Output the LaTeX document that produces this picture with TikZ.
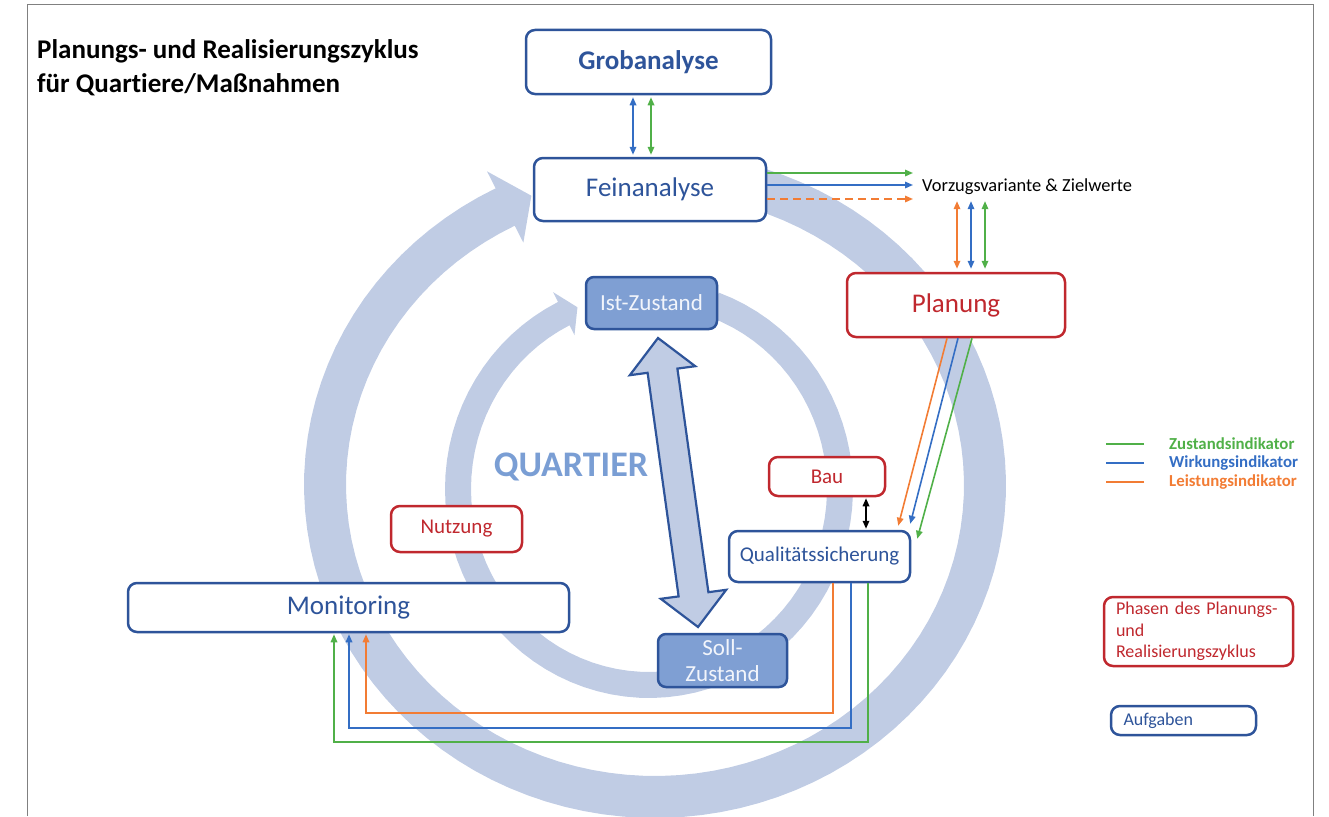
\documentclass[tikz,border=0pt]{standalone}
\usepackage{fontspec}
\setmainfont{Carlito}[Ligatures=NoCommon]
\usetikzlibrary{arrows.meta,calc}

\definecolor{ringblue}{RGB}{192,204,228}
\definecolor{boxblue}{RGB}{46,84,154}
\definecolor{phasered}{RGB}{192,40,46}
\definecolor{statefill}{RGB}{127,159,211}
\definecolor{zgreen}{RGB}{80,176,72}
\definecolor{wblue}{RGB}{52,110,196}
\definecolor{lorange}{RGB}{242,124,52}
\definecolor{quartier}{RGB}{122,158,212}

\tikzset{
  >={Triangle[length=8pt,width=6.5pt]},
  phase/.style={draw=phasered, line width=2.5pt, rounded corners=9pt, fill=white, text=phasered, inner sep=0pt},
  task/.style={draw=boxblue, line width=2.5pt, rounded corners=9pt, fill=white, text=boxblue, inner sep=0pt},
  state/.style={draw=boxblue, line width=2.5pt, rounded corners=8pt, fill=statefill, text=white!90!statefill, inner sep=0pt, align=center},
  zust/.style={draw=zgreen, line width=1.6pt},
  wirk/.style={draw=wblue, line width=1.6pt},
  leist/.style={draw=lorange, line width=1.6pt},
  bigtext/.style={font=\fontsize{27}{32}\selectfont},
  midtext/.style={font=\fontsize{23}{26}\selectfont},
  smalltext/.style={font=\fontsize{21}{25}\selectfont},
  legtext/.style={font=\bfseries\fontsize{16.8}{19}\selectfont, anchor=west, inner sep=0pt},
}

\begin{document}
\begin{tikzpicture}[x=1pt, y=-1pt]
  \useasboundingbox (0,0) rectangle (1329,816);

  % frame
  \draw[black!50, line width=1pt] (27,816) -- (27,5) -- (1313,5) -- (1313,816);

  % outer cycle
  \fill[ringblue] plot[domain=-75:243, samples=100, variable=\t] ({655+351*cos(\t)}, {485+333*sin(\t)})
    -- ({655+370*cos(243)}, {485+352*sin(243)})
    -- ({655+330*cos(248)}, {485+312*sin(248)})
    -- ({655+290*cos(243)}, {485+272*sin(243)})
    -- plot[domain=243:-75, samples=100, variable=\t] ({655+309*cos(\t)}, {485+291*sin(\t)}) -- cycle;

  % inner cycle
  \fill[ringblue] plot[domain=-70:243.5, samples=80, variable=\t] ({649+204*cos(\t)}, {489+209*sin(\t)})
    -- ({649+215*cos(243.5)}, {489+220*sin(243.5)})
    -- ({649+191*cos(248)}, {489+196*sin(248)})
    -- ({649+167*cos(243.5)}, {489+172*sin(243.5)})
    -- plot[domain=243.5:-70, samples=80, variable=\t] ({649+178*cos(\t)}, {489+183*sin(\t)}) -- cycle;

  % Ist <-> Soll
  \draw[boxblue, fill=ringblue, line width=2.2pt, line join=miter]
    (658,338) -- (695.2,366.2) -- (677.4,368.6) -- (708.4,592.2) -- (726.2,589.8)
    -- (698,627) -- (660.8,598.8) -- (678.6,596.4) -- (647.6,372.8) -- (629.8,375.2) -- cycle;

  % title
  \node[anchor=west, align=left, inner sep=0pt, font=\bfseries\fontsize{27}{34}\selectfont] (title) at (37,68)
    {Planungs- und Realisierungszyklus\\für Quartiere/Maßnahmen};

  \node[font=\bfseries\fontsize{36}{40}\selectfont, text=quartier] (quart) at (571,467) {QUARTIER};

  % boxes
  \node[task, font=\bfseries\fontsize{27}{32}\selectfont, minimum width=245, minimum height=64] (grob) at (648.5,62) {Grobanalyse};
  \node[task, bigtext, minimum width=232, minimum height=63] (fein) at (650,189.5) {Feinanalyse};
  \node[state, midtext, minimum width=131, minimum height=52] (ist) at (651.5,303) {Ist-Zustand};
  \node[state, midtext, minimum width=129, minimum height=53] (soll) at (722.5,660.5) {Soll-\\Zustand};
  \node[phase, bigtext, minimum width=218, minimum height=64] (plan) at (956,305) {Planung};
  \node[phase, smalltext, minimum width=116, minimum height=39] (bau) at (827,476.5) {Bau};
  \node[task, smalltext, minimum width=181, minimum height=51] (qs) at (819.5,556.5) {Qualitätssicherung};
  \node[phase, smalltext, minimum width=131, minimum height=46] (nutz) at (456.5,529) {Nutzung};
  \node[task, bigtext, minimum width=441, minimum height=49] (moni) at (348.5,607.5) {Monitoring};

  \node[anchor=west, inner xsep=9pt, inner ysep=6pt, font=\fontsize{18.4}{21}\selectfont] (vorz) at (913,187) {Vorzugsvariante \& Zielwerte};

  % Grobanalyse <-> Feinanalyse
  \draw[wirk, <->, shorten <=2pt, shorten >=2pt] ([xshift=-15.5]grob.south) -- ([xshift=-15.5]grob.south |- fein.north);
  \draw[zust, <->, shorten <=2pt, shorten >=2pt] ([xshift=2.5]grob.south) -- ([xshift=2.5]grob.south |- fein.north);

  % Feinanalyse -> Vorzugsvariante
  \draw[zust, ->] ([yshift=16.5]fein.east) -- ([yshift=16.5]fein.east -| vorz.west);
  \draw[wirk, ->] ([yshift=4.5]fein.east) -- ([yshift=4.5]fein.east -| vorz.west);
  \draw[leist, ->, dash pattern=on 8pt off 5pt] ([yshift=-9.5]fein.east) -- ([yshift=-9.5]fein.east -| vorz.west);

  % Vorzugsvariante <-> Planung
  \draw[leist, <->, shorten <=3pt] ([xshift=1]plan.north) -- ([xshift=1]plan.north |- vorz.south);
  \draw[wirk, <->, shorten <=3pt] ([xshift=15]plan.north) -- ([xshift=15]plan.north |- vorz.south);
  \draw[zust, <->, shorten <=3pt] ([xshift=29]plan.north) -- ([xshift=29]plan.north |- vorz.south);

  % Planung -> Qualitaetssicherung
  \draw[leist, ->] ([xshift=-9]plan.south) -- ([xshift=-13,yshift=4]qs.north east);
  \draw[wirk, ->] ([xshift=2]plan.south) -- ([xshift=-1,yshift=6]qs.north east);
  \draw[zust, ->] ([xshift=16]plan.south) -- ([xshift=6,yshift=-9]qs.north east);

  % Bau <-> Qualitaetssicherung
  \draw[line width=1.6pt, <->, shorten <=1pt, shorten >=1pt] ([xshift=39]bau.south) -- ([xshift=39]bau.south |- qs.north);

  % Qualitaetssicherung -> Monitoring
  \draw[leist, ->, shorten >=1pt] ([xshift=13.5]qs.south) -- ++(0,130) -| ([xshift=17.5]moni.south);
  \draw[wirk, ->, shorten >=1pt] ([xshift=31.5]qs.south) -- ++(0,145) -| ([xshift=0.5]moni.south);
  \draw[zust, ->, shorten >=1pt] ([xshift=48.5]qs.south) -- ++(0,159) -| ([xshift=-14.5]moni.south);

  % legend
  \node[legtext, text=zgreen] (lz) at (1169,444) {Zustandsindikator};
  \node[legtext, text=wblue] (lw) at (1169,463) {Wirkungsindikator};
  \node[legtext, text=lorange] (ll) at (1169,482) {Leistungsindikator};
  \draw[zust] ([xshift=-25]lz.west) -- ++(-38,0);
  \draw[wirk] ([xshift=-25]lw.west) -- ++(-38,0);
  \draw[leist] ([xshift=-25]ll.west) -- ++(-38,0);

  \node[phase, minimum width=189, minimum height=69, text width=165, align=left, font=\fontsize{18}{21.5}\selectfont] (legphase) at (1198.5,631.5)
    {Phasen des Planungs-\\und\\Realisierungszyklus};
  \node[task, minimum width=145, minimum height=29, text width=120, align=left, font=\fontsize{18}{21}\selectfont] (legauf) at (1183.5,720.5) {Aufgaben};
\end{tikzpicture}
\end{document}
